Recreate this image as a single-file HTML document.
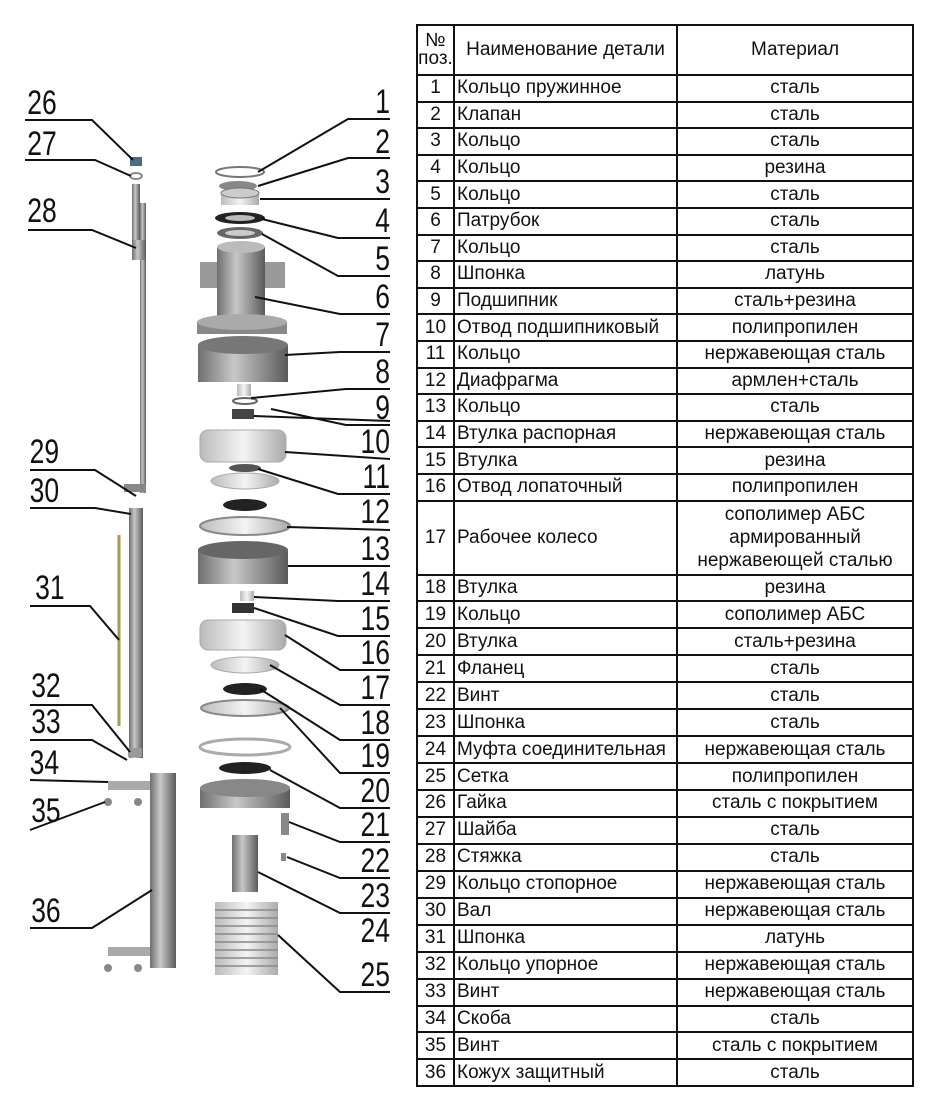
<!DOCTYPE html>
<html><head><meta charset="utf-8"><style>
html,body{margin:0;padding:0;background:#fff;width:928px;height:1116px;overflow:hidden}
#tbl{position:absolute;left:416px;top:24px;width:496px;border-collapse:collapse;font-family:"Liberation Sans","DejaVu Sans",sans-serif;font-size:19px;color:#111;table-layout:fixed}
#tbl td{border:2px solid #111;padding:0 2px;line-height:20px;white-space:nowrap;overflow:hidden}
#tbl td.n{text-align:center;padding:0}
#tbl td.m{text-align:center}
#tbl tr{height:26.6px}
#tbl tr.b{height:26.95px}
svg{position:absolute;left:0;top:0}
</style></head><body>
<svg width="416" height="1116" viewBox="0 0 416 1116" font-family="Liberation Sans, sans-serif">
<defs>
<linearGradient id="g" x1="0" x2="1"><stop offset="0" stop-color="#6f6f6f"/><stop offset=".4" stop-color="#c8c8c8"/><stop offset="1" stop-color="#5a5a5a"/></linearGradient>
<linearGradient id="w" x1="0" x2="1"><stop offset="0" stop-color="#bbb"/><stop offset=".5" stop-color="#f4f4f4"/><stop offset="1" stop-color="#aaa"/></linearGradient>
</defs>
<!-- left parts -->
<rect x="130" y="157" width="12" height="9" fill="#4a6b80"/>
<ellipse cx="136" cy="176" rx="6" ry="3" fill="none" stroke="#888" stroke-width="2"/>
<rect x="132" y="184" width="8" height="60" fill="url(#g)"/>
<rect x="140" y="203" width="6" height="290" fill="url(#g)"/>
<rect x="132" y="240" width="14" height="20" fill="url(#g)"/>
<rect x="124" y="484" width="22" height="8" fill="#888"/>
<rect x="129" y="508" width="14" height="250" fill="url(#g)"/>
<line x1="119" y1="535" x2="119" y2="726" stroke="#a89a50" stroke-width="3"/>
<rect x="128" y="748" width="14" height="9" fill="#999"/>
<rect x="108" y="781" width="42" height="9" fill="#aaa"/>
<circle cx="108" cy="802" r="4" fill="#888"/><circle cx="138" cy="802" r="4" fill="#888"/>
<rect x="150" y="773" width="26" height="195" fill="url(#g)"/>
<rect x="108" y="947" width="42" height="9" fill="#aaa"/>
<circle cx="108" cy="968" r="4" fill="#888"/><circle cx="138" cy="968" r="4" fill="#888"/>
<!-- right stack -->
<ellipse cx="240" cy="172" rx="24" ry="5" fill="none" stroke="#777" stroke-width="2"/>
<ellipse cx="238" cy="186" rx="19" ry="5" fill="#888"/>
<rect x="221" y="193" width="38" height="12" fill="url(#w)"/><ellipse cx="240" cy="193" rx="19" ry="5" fill="#ccc" stroke="#777"/>
<ellipse cx="240" cy="218" rx="25" ry="6" fill="#222"/><ellipse cx="240" cy="218" rx="15" ry="3" fill="#bbb"/>
<ellipse cx="240" cy="233" rx="23" ry="6" fill="#666"/><ellipse cx="240" cy="233" rx="15" ry="3" fill="#ccc"/>
<rect x="200" y="262" width="85" height="26" fill="#999"/>
<rect x="217" y="247" width="48" height="85" fill="url(#g)"/>
<ellipse cx="241" cy="247" rx="24" ry="6" fill="#bbb"/>
<rect x="197" y="322" width="90" height="12" fill="#888"/>
<ellipse cx="242" cy="322" rx="45" ry="8" fill="#aaa"/>
<rect x="198" y="345" width="90" height="37" fill="url(#g)"/>
<ellipse cx="243" cy="345" rx="45" ry="9" fill="#777"/>
<rect x="237" y="384" width="14" height="12" fill="url(#w)"/>
<ellipse cx="245" cy="401" rx="12" ry="3" fill="none" stroke="#666" stroke-width="2"/>
<rect x="232" y="409" width="22" height="10" fill="#444"/>
<rect x="200" y="430" width="86" height="32" rx="8" fill="url(#w)" stroke="#aaa"/>
<ellipse cx="245" cy="468" rx="16" ry="4" fill="#555"/>
<ellipse cx="245" cy="481" rx="34" ry="8" fill="url(#w)" stroke="#aaa"/>
<ellipse cx="245" cy="505" rx="22" ry="6" fill="#222"/>
<ellipse cx="245" cy="526" rx="45" ry="9" fill="url(#w)" stroke="#888" stroke-width="2"/>
<rect x="198" y="550" width="90" height="34" fill="url(#g)"/>
<ellipse cx="243" cy="550" rx="45" ry="9" fill="#666"/>
<rect x="240" y="591" width="14" height="10" fill="url(#w)"/>
<rect x="232" y="603" width="22" height="10" fill="#333"/>
<rect x="200" y="620" width="86" height="30" rx="8" fill="url(#w)" stroke="#aaa"/>
<ellipse cx="245" cy="665" rx="34" ry="8" fill="url(#w)" stroke="#aaa"/>
<ellipse cx="245" cy="689" rx="22" ry="6" fill="#222"/>
<ellipse cx="245" cy="708" rx="44" ry="8" fill="url(#w)" stroke="#888" stroke-width="2"/>
<ellipse cx="245" cy="747" rx="45" ry="8" fill="none" stroke="#aaa" stroke-width="3"/>
<ellipse cx="245" cy="768" rx="26" ry="6" fill="#222"/>
<rect x="200" y="788" width="90" height="20" fill="url(#g)"/>
<ellipse cx="245" cy="788" rx="45" ry="9" fill="#888"/>
<rect x="281" y="813" width="8" height="22" fill="#888"/>
<rect x="281" y="853" width="5" height="8" fill="#888"/>
<rect x="232" y="835" width="26" height="57" fill="url(#g)"/>
<rect x="215" y="902" width="63" height="73" fill="url(#w)"/>
<g stroke="#888" stroke-width="1.5">
<line x1="215" y1="910" x2="278" y2="910"/><line x1="215" y1="918" x2="278" y2="918"/><line x1="215" y1="926" x2="278" y2="926"/><line x1="215" y1="934" x2="278" y2="934"/><line x1="215" y1="942" x2="278" y2="942"/><line x1="215" y1="950" x2="278" y2="950"/><line x1="215" y1="958" x2="278" y2="958"/><line x1="215" y1="966" x2="278" y2="966"/></g>
<!-- leaders right -->
<g stroke="#111" stroke-width="2" fill="none">
<polyline points="258,172 348,119 390,119"/>
<polyline points="258,186 348,158 390,158"/>
<polyline points="260,199 390,199"/>
<polyline points="262,219 338,238 390,238"/>
<polyline points="262,234 338,276 390,276"/>
<polyline points="255,297 340,314 390,314"/>
<polyline points="285,355 340,352 390,352"/>
<polyline points="251,398 346,389 390,389"/>
<polyline points="271,409 346,425 390,425"/>
<polyline points="254,416 390,421"/>
<polyline points="285,452 390,459"/>
<polyline points="258,469 338,494 390,494"/>
<polyline points="287,527 390,530"/>
<polyline points="288,566 390,566"/>
<polyline points="254,597 338,601 390,601"/>
<polyline points="254,608 338,636 390,636"/>
<polyline points="285,635 340,670 390,670"/>
<polyline points="270,665 340,705 390,705"/>
<polyline points="260,689 340,740 390,740"/>
<polyline points="280,708 340,773 390,773"/>
<polyline points="270,770 340,808 390,808"/>
<polyline points="289,822 340,842 390,842"/>
<polyline points="287,857 340,878 390,878"/>
<polyline points="258,872 340,913 390,913"/>
<polyline points="278,935 340,992 390,992"/>
</g>
<g font-size="34" text-anchor="end" fill="#111" transform="scale(0.78,1)">
<text x="500" y="113">1</text><text x="500" y="153">2</text><text x="500" y="193">3</text><text x="500" y="232">4</text><text x="500" y="270">5</text><text x="500" y="308">6</text><text x="500" y="346">7</text><text x="500" y="383">8</text><text x="500" y="419">9</text><text x="500" y="453">10</text><text x="500" y="488">11</text><text x="500" y="523">12</text><text x="500" y="560">13</text><text x="500" y="595">14</text><text x="500" y="630">15</text><text x="500" y="664">16</text><text x="500" y="699">17</text><text x="500" y="734">18</text><text x="500" y="767">19</text><text x="500" y="802">20</text><text x="500" y="836">21</text><text x="500" y="872">22</text><text x="500" y="907">23</text><text x="500" y="942">24</text><text x="500" y="986">25</text>
</g>
<!-- leaders left -->
<g stroke="#111" stroke-width="2" fill="none">
<polyline points="25,120 92,120 133,160"/>
<polyline points="25,160 95,160 131,176"/>
<polyline points="28,230 92,230 136,248"/>
<polyline points="30,470 95,470 136,496"/>
<polyline points="30,508 95,508 131,514"/>
<polyline points="30,606 90,606 119,640"/>
<polyline points="30,705 92,705 130,752"/>
<polyline points="30,740 92,740 127,760"/>
<polyline points="30,780 108,782"/>
<polyline points="30,830 105,802"/>
<polyline points="30,928 92,928 152,890"/>
</g>
<g font-size="34" fill="#111" transform="scale(0.78,1)">
<text x="35" y="114">26</text><text x="35" y="155">27</text><text x="35" y="222">28</text><text x="38" y="463">29</text><text x="38" y="502">30</text><text x="45" y="599">31</text><text x="40" y="697">32</text><text x="40" y="733">33</text><text x="38" y="774">34</text><text x="40" y="822">35</text><text x="40" y="922">36</text>
</g>
</svg>
<table id="tbl">
<colgroup><col style="width:37px"><col style="width:223px"><col style="width:236px"></colgroup>
<tr style="height:50px"><td class="n" style="line-height:18px">№<br>поз.</td><td style="text-align:center">Наименование детали</td><td class="m">Материал</td></tr>
<tr><td class="n">1</td><td>Кольцо пружинное</td><td class="m">сталь</td></tr>
<tr><td class="n">2</td><td>Клапан</td><td class="m">сталь</td></tr>
<tr><td class="n">3</td><td>Кольцо</td><td class="m">сталь</td></tr>
<tr><td class="n">4</td><td>Кольцо</td><td class="m">резина</td></tr>
<tr><td class="n">5</td><td>Кольцо</td><td class="m">сталь</td></tr>
<tr><td class="n">6</td><td>Патрубок</td><td class="m">сталь</td></tr>
<tr><td class="n">7</td><td>Кольцо</td><td class="m">сталь</td></tr>
<tr><td class="n">8</td><td>Шпонка</td><td class="m">латунь</td></tr>
<tr><td class="n">9</td><td>Подшипник</td><td class="m">сталь+резина</td></tr>
<tr><td class="n">10</td><td>Отвод подшипниковый</td><td class="m">полипропилен</td></tr>
<tr><td class="n">11</td><td>Кольцо</td><td class="m">нержавеющая сталь</td></tr>
<tr><td class="n">12</td><td>Диафрагма</td><td class="m">армлен+сталь</td></tr>
<tr><td class="n">13</td><td>Кольцо</td><td class="m">сталь</td></tr>
<tr><td class="n">14</td><td>Втулка распорная</td><td class="m">нержавеющая сталь</td></tr>
<tr><td class="n">15</td><td>Втулка</td><td class="m">резина</td></tr>
<tr><td class="n">16</td><td>Отвод лопаточный</td><td class="m">полипропилен</td></tr>
<tr style="height:74px"><td class="n">17</td><td>Рабочее колесо</td><td class="m" style="line-height:23px">сополимер АБС<br>армированный<br>нержавеющей сталью</td></tr>
<tr class="b"><td class="n">18</td><td>Втулка</td><td class="m">резина</td></tr>
<tr class="b"><td class="n">19</td><td>Кольцо</td><td class="m">сополимер АБС</td></tr>
<tr class="b"><td class="n">20</td><td>Втулка</td><td class="m">сталь+резина</td></tr>
<tr class="b"><td class="n">21</td><td>Фланец</td><td class="m">сталь</td></tr>
<tr class="b"><td class="n">22</td><td>Винт</td><td class="m">сталь</td></tr>
<tr class="b"><td class="n">23</td><td>Шпонка</td><td class="m">сталь</td></tr>
<tr class="b"><td class="n">24</td><td>Муфта соединительная</td><td class="m">нержавеющая сталь</td></tr>
<tr class="b"><td class="n">25</td><td>Сетка</td><td class="m">полипропилен</td></tr>
<tr class="b"><td class="n">26</td><td>Гайка</td><td class="m">сталь с покрытием</td></tr>
<tr class="b"><td class="n">27</td><td>Шайба</td><td class="m">сталь</td></tr>
<tr class="b"><td class="n">28</td><td>Стяжка</td><td class="m">сталь</td></tr>
<tr class="b"><td class="n">29</td><td>Кольцо стопорное</td><td class="m">нержавеющая сталь</td></tr>
<tr class="b"><td class="n">30</td><td>Вал</td><td class="m">нержавеющая сталь</td></tr>
<tr class="b"><td class="n">31</td><td>Шпонка</td><td class="m">латунь</td></tr>
<tr class="b"><td class="n">32</td><td>Кольцо упорное</td><td class="m">нержавеющая сталь</td></tr>
<tr class="b"><td class="n">33</td><td>Винт</td><td class="m">нержавеющая сталь</td></tr>
<tr class="b"><td class="n">34</td><td>Скоба</td><td class="m">сталь</td></tr>
<tr class="b"><td class="n">35</td><td>Винт</td><td class="m">сталь с покрытием</td></tr>
<tr class="b"><td class="n">36</td><td>Кожух защитный</td><td class="m">сталь</td></tr>
</table>
</body></html>
